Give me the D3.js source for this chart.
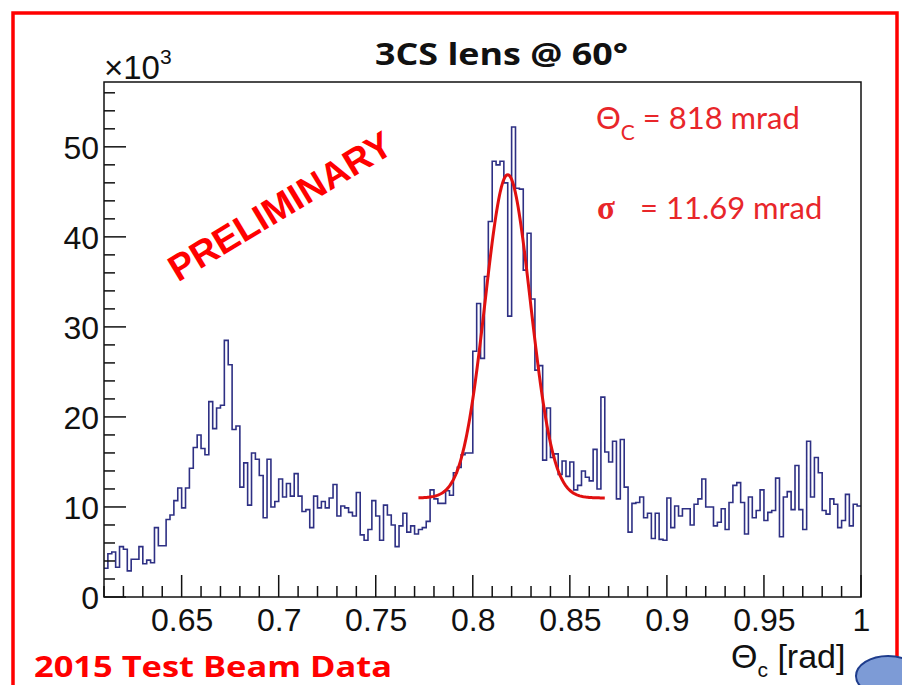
<!DOCTYPE html>
<html>
<head>
<meta charset="utf-8">
<script src="https://cdn.jsdelivr.net/npm/d3@7"></script>
<style>
  html, body { margin: 0; padding: 0; background: #fff; }
  svg { display: block; }
</style>
</head>
<body>
<svg id="chart" width="902" height="685"></svg>
<script>
// ---------------- DATA ----------------
const binLow = 0.61;
const binWidth = 0.002;
// counts (x10^3) per bin, 195 bins from 0.61 to 1.00
const counts = [
  3.2, 4.8, 5.0, 3.3, 5.6, 5.3, 2.9, 4.2, 4.2, 5.6, 3.7, 4.1, 3.8, 7.7, 5.7, 5.7, 8.6, 9.1, 10.7, 12.1,
  9.9, 12.1, 14.3, 16.6, 18.0, 16.5, 15.8, 21.7, 18.7, 21.0, 21.3, 28.5, 25.8, 18.6, 19.0, 12.2, 14.9, 10.2, 16.0, 15.3,
  13.5, 8.8, 15.3, 10.0, 10.6, 13.1, 11.1, 12.6, 11.2, 13.7, 11.2, 9.5, 9.7, 7.7, 11.2, 9.9, 10.6, 9.9, 11.0, 12.5,
  9.0, 10.1, 9.9, 9.4, 9.0, 11.6, 6.9, 6.3, 7.5, 10.7, 9.0, 6.3, 10.2, 9.1, 8.0, 5.6, 7.9, 9.3, 7.2, 7.9,
  7.0, 7.5, 7.7, 8.4, 11.9, 10.9, 10.4, 10.4, 11.8, 11.3, 13.8, 14.4, 15.8, 16.0, 16.0,
  27.3, 32.6, 26.5, 35.6, 41.7, 48.4, 48.0, 48.4, 46.0, 31.2, 52.2, 45.4, 45.3, 36.3, 40.4, 33.1, 25.2, 25.7, 15.2, 21.0,
  15.5, 15.9, 13.6, 15.1,
  13.4, 15.0, 11.9, 12.4, 14.0, 13.3, 12.9, 16.4, 12.0, 22.2, 16.1, 15.0, 17.3, 10.9, 17.5, 12.2, 7.2, 10.4, 10.5, 11.1,
  8.8, 9.3, 6.5, 9.3, 6.4, 6.3, 11.0, 7.7, 10.1, 9.0, 9.8, 9.8, 8.0, 10.3, 10.9, 13.1,
  10.0, 10.0, 7.9, 8.3, 9.8, 7.5, 10.5, 12.4, 12.7, 10.5, 7.0, 11.1, 8.8, 9.6, 11.9, 8.5, 9.4, 9.6, 13.2, 6.7,
  11.1, 11.7, 9.7, 14.6, 9.7, 7.5, 17.3, 11.1, 15.5, 13.8, 9.6, 9.2, 10.9, 10.3, 7.7, 8.5, 11.4, 7.9, 10.3, 10.1
];
// Gaussian + constant fit: [constant, amplitude, mean, sigma]
const fitParams = [11.0, 35.9, 0.818, 0.01169];
const fitRange = [0.772, 0.868];
const xDomain = [0.61, 1.0];
const yDomain = [0, 57.2];
const xTickLabels = [0.65, 0.7, 0.75, 0.8, 0.85, 0.9, 0.95, 1];
const yTickLabels = [0, 10, 20, 30, 40, 50];

// ---------------- LAYOUT ----------------
const svg = d3.select("#chart");
const plot = { left: 104, right: 861, top: 82, bottom: 597 };
const x = d3.scaleLinear().domain(xDomain).range([plot.left, plot.right]);
const y = d3.scaleLinear().domain(yDomain).range([plot.bottom, plot.top]);

// outer red border
svg.append("rect")
  .attr("x", 13).attr("y", 13).attr("width", 884).attr("height", 700)
  .attr("fill", "none").attr("stroke", "#ff0000").attr("stroke-width", 3.5);

// title
svg.append("text")
  .attr("x", 375).attr("y", 65)
  .attr("textLength", 253).attr("lengthAdjust", "spacingAndGlyphs")
  .attr("font-family", "'Open Sans', Lato, sans-serif")
  .attr("font-weight", 700).attr("font-size", 30)
  .attr("fill", "#111")
  .text("3CS lens @ 60°");

// x10^3
const mult = svg.append("text")
  .attr("x", 104).attr("y", 79)
  .attr("font-family", "'Liberation Sans', Arial, sans-serif")
  .attr("font-size", 33).attr("fill", "#111");
mult.append("tspan").text("×10");
mult.append("tspan").attr("dy", -15).attr("font-size", 21).text("3");

// histogram
let pathD = "M" + x(binLow) + "," + y(counts[0]);
counts.forEach((c, i) => {
  const x0 = x(binLow + i * binWidth), x1 = x(binLow + (i + 1) * binWidth);
  if (i > 0) pathD += "L" + x0 + "," + y(c);
  pathD += "L" + x1 + "," + y(c);
});
svg.append("path")
  .attr("d", pathD)
  .attr("fill", "none")
  .attr("stroke", "#2e3084")
  .attr("stroke-width", 1.6)
  .attr("stroke-linejoin", "miter");

// fit curve
const fitPts = d3.range(0, 201).map(k => {
  const xv = fitRange[0] + (fitRange[1] - fitRange[0]) * k / 200;
  const [c0, a, mu, s] = fitParams;
  return [xv, c0 + a * Math.exp(-0.5 * Math.pow((xv - mu) / s, 2))];
});
svg.append("path")
  .datum(fitPts)
  .attr("d", d3.line().x(d => x(d[0])).y(d => y(d[1])))
  .attr("fill", "none").attr("stroke", "#e01010").attr("stroke-width", 3);

// frame
svg.append("rect")
  .attr("x", plot.left).attr("y", plot.top)
  .attr("width", plot.right - plot.left).attr("height", plot.bottom - plot.top)
  .attr("fill", "none").attr("stroke", "#111").attr("stroke-width", 1.5);

// axes ticks
const tickG = svg.append("g").attr("stroke", "#111").attr("stroke-width", 1.5);
d3.range(0, 40).forEach(k => {
  const v = 0.61 + k * 0.01;
  tickG.append("line")
    .attr("x1", x(v)).attr("x2", x(v))
    .attr("y1", plot.bottom).attr("y2", plot.bottom - (((k - 4) % 5 === 0) ? 22 : 11));
});
d3.range(0, 29).forEach(k => {
  const v = k * 2;
  const isMajor = v % 10 === 0;
  tickG.append("line")
    .attr("x1", plot.left).attr("x2", plot.left + (isMajor ? 22 : 11))
    .attr("y1", y(v)).attr("y2", y(v));
});

// x tick labels
const xAxis = d3.axisBottom(x).tickValues(xTickLabels).tickSize(0).tickFormat(d3.format("~g"));
const gx = svg.append("g").attr("transform", `translate(0,${plot.bottom})`).call(xAxis);
gx.select(".domain").remove();
gx.selectAll("text")
  .attr("dy", 0).attr("y", 34)
  .attr("font-family", "'Liberation Sans', Arial, sans-serif")
  .attr("font-size", 32).attr("fill", "#111");

// y tick labels
const yAxis = d3.axisLeft(y).tickValues(yTickLabels).tickSize(0);
const gy = svg.append("g").attr("transform", `translate(${plot.left},0)`).call(yAxis);
gy.select(".domain").remove();
gy.selectAll("text")
  .attr("x", -5).attr("dy", "0.36em")
  .attr("font-family", "'Liberation Sans', Arial, sans-serif")
  .attr("font-size", 32).attr("fill", "#111");

// x-axis title
const xt = svg.append("text")
  .attr("x", 731).attr("y", 668)
  .attr("font-family", "'Liberation Sans', Arial, sans-serif")
  .attr("font-size", 34).attr("fill", "#111");
xt.append("tspan").text("Θ");
xt.append("tspan").attr("dy", 9).attr("font-size", 21).text("c");
xt.append("tspan").attr("dy", -9).text(" [rad]");

// PRELIMINARY
svg.append("text")
  .attr("transform", "translate(280,206) rotate(-31)")
  .attr("text-anchor", "middle").attr("dy", "0.35em")
  .attr("font-family", "'Liberation Sans', Arial, sans-serif")
  .attr("font-weight", 700).attr("font-size", 37)
  .attr("fill", "#ff0000")
  .text("PRELIMINARY");

// fit annotations
const a1 = svg.append("text")
  .attr("x", 596).attr("y", 129)
  .attr("font-family", "Lato, 'Open Sans', sans-serif")
  .attr("font-size", 31).attr("fill", "#e8262a");
a1.append("tspan").text("Θ");
a1.append("tspan").attr("dy", 11).attr("font-size", 21).text("C");
a1.append("tspan").attr("dy", -11).text(" = 818 mrad");

svg.append("text")
  .attr("x", 597).attr("y", 219)
  .attr("font-family", "'Liberation Serif', 'Times New Roman', serif")
  .attr("font-weight", 700).attr("font-size", 33).attr("fill", "#e8262a")
  .text("σ");
svg.append("text")
  .attr("x", 640).attr("y", 219)
  .attr("font-family", "Lato, 'Open Sans', sans-serif")
  .attr("font-size", 31).attr("fill", "#e8262a")
  .text("= 11.69 mrad");

// footer
svg.append("text")
  .attr("x", 34).attr("y", 677)
  .attr("textLength", 358).attr("lengthAdjust", "spacingAndGlyphs")
  .attr("font-family", "'Open Sans', Lato, sans-serif")
  .attr("font-weight", 700).attr("font-size", 28).attr("fill", "#ff0000")
  .text("2015 Test Beam Data");

// small logo mark (bottom-right corner)
svg.append("ellipse")
  .attr("cx", 888).attr("cy", 676).attr("rx", 32).attr("ry", 20)
  .attr("fill", "#7d9bd6").attr("stroke", "#1e3c8c").attr("stroke-width", 2);
</script>
</body>
</html>
